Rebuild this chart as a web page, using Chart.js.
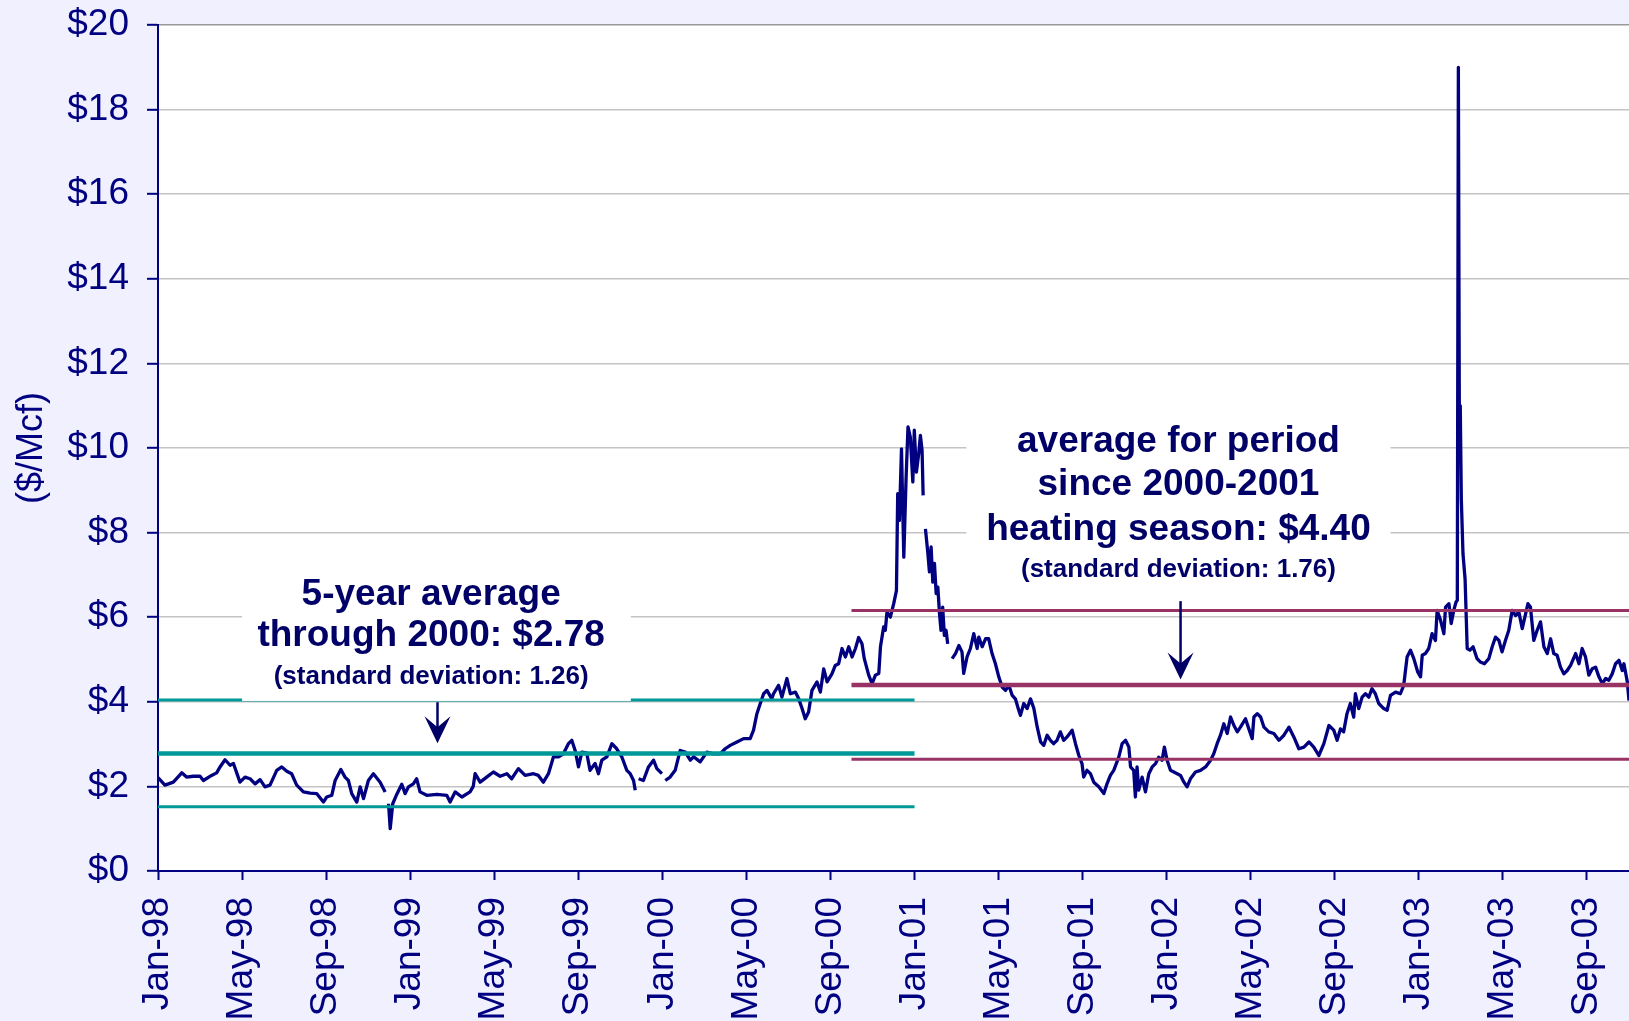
<!DOCTYPE html>
<html>
<head>
<meta charset="utf-8">
<script src="https://cdn.jsdelivr.net/npm/chart.js@4/dist/chart.umd.min.js"></script>
<style>
  html, body { margin: 0; padding: 0; background: #f0f0ff; }
  #wrap { width: 1629px; height: 1021px; }
</style>
</head>
<body>
<div id="wrap"><canvas id="chart" width="1629" height="1021"></canvas></div>
<script>
// x values are months since Jan 1998 (0 = Jan-98), null price = gap in the series
const priceMonths = [
  0.00, 0.33, 0.73, 1.13, 1.36, 1.68, 2.00, 2.16, 2.55, 2.79, 2.95, 3.19, 3.43, 3.59, 3.90, 4.14,
  4.38, 4.62, 4.86, 5.09, 5.33, 5.65, 5.89, 6.13, 6.36, 6.60, 6.92, 7.24, 7.55, 7.87, 8.03, 8.27,
  8.43, 8.70, 8.90, 9.06, 9.22, 9.46, 9.62, 9.78, 10.01, 10.25, 10.57, 10.81, 10.89, 10.97, 11.05, 11.17,
  11.36, 11.60, 11.76, 11.92, 12.15, 12.31, 12.47, 12.79, 13.27, 13.74, 13.90, 14.14, 14.46, 14.85, 15.00, 15.09,
  15.33, 15.64, 15.96, 16.28, 16.60, 16.83, 17.15, 17.47, 17.87, 18.10, 18.34, 18.58, 18.82, 19.06, 19.29, 19.53,
  19.69, 19.85, 20.01, 20.17, 20.40, 20.56, 20.80, 20.96, 21.12, 21.36, 21.60, 21.83, 22.07, 22.31, 22.47, 22.63,
  22.71, 22.79, 22.87, 23.10, 23.34, 23.58, 23.74, 23.98, 24.06, 24.14, 24.37, 24.61, 24.85, 25.09, 25.33, 25.49,
  25.80, 26.12, 26.44, 26.75, 26.99, 27.23, 27.55, 27.87, 28.18, 28.34, 28.50, 28.66, 28.82, 28.98, 29.21, 29.29,
  29.53, 29.69, 29.93, 30.09, 30.33, 30.49, 30.65, 30.80, 30.96, 31.12, 31.36, 31.52, 31.68, 31.84, 32.07, 32.23,
  32.39, 32.55, 32.71, 32.87, 33.03, 33.19, 33.34, 33.50, 33.61, 33.82, 33.98, 34.14, 34.30, 34.38, 34.53, 34.61,
  34.69, 34.85, 35.01, 35.14, 35.20, 35.28, 35.38, 35.49, 35.60, 35.69, 35.80, 35.92, 35.99, 36.09, 36.20, 36.28,
  36.36, 36.41, 36.46, 36.52, 36.63, 36.71, 36.79, 36.87, 36.95, 37.03, 37.11, 37.19, 37.26, 37.34, 37.42, 37.50,
  37.58, 37.68, 37.79, 37.95, 38.11, 38.26, 38.34, 38.50, 38.66, 38.82, 38.98, 39.06, 39.22, 39.38, 39.53, 39.69,
  39.85, 40.01, 40.17, 40.33, 40.49, 40.65, 40.80, 40.96, 41.04, 41.20, 41.36, 41.52, 41.68, 41.84, 42.00, 42.15,
  42.31, 42.47, 42.62, 42.78, 42.94, 43.10, 43.26, 43.50, 43.66, 43.82, 43.97, 44.05, 44.21, 44.37, 44.53, 44.77,
  45.01, 45.16, 45.32, 45.48, 45.72, 45.88, 46.04, 46.20, 46.28, 46.43, 46.51, 46.59, 46.67, 46.83, 46.99, 47.15,
  47.31, 47.47, 47.62, 47.78, 47.89, 48.02, 48.18, 48.34, 48.50, 48.66, 48.82, 48.97, 49.13, 49.37, 49.61, 49.85,
  50.09, 50.24, 50.40, 50.56, 50.72, 50.88, 51.04, 51.20, 51.36, 51.51, 51.75, 51.91, 52.07, 52.15, 52.31, 52.47,
  52.63, 52.86, 53.10, 53.34, 53.58, 53.82, 54.05, 54.29, 54.53, 54.77, 55.00, 55.24, 55.48, 55.72, 55.95, 56.11,
  56.27, 56.42, 56.58, 56.74, 56.90, 56.98, 57.14, 57.30, 57.46, 57.62, 57.77, 57.93, 58.09, 58.33, 58.49, 58.65,
  58.89, 59.12, 59.28, 59.44, 59.60, 59.76, 59.95, 60.08, 60.16, 60.31, 60.47, 60.63, 60.79, 60.87, 61.03, 61.19,
  61.27, 61.43, 61.54, 61.66, 61.77, 61.83, 61.88, 61.93, 61.97, 62.02, 62.10, 62.20, 62.30, 62.43, 62.58, 62.77,
  62.93, 63.12, 63.33, 63.49, 63.65, 63.81, 63.96, 64.12, 64.28, 64.44, 64.60, 64.76, 64.92, 65.08, 65.19, 65.31,
  65.47, 65.63, 65.79, 65.95, 66.11, 66.27, 66.42, 66.58, 66.74, 66.90, 67.06, 67.22, 67.46, 67.62, 67.77, 67.93,
  68.09, 68.25, 68.41, 68.57, 68.73, 68.89, 69.04, 69.20, 69.36, 69.52, 69.68, 69.76, 69.92, 70.00
];
const priceValues = [
  2.21, 2.03, 2.10, 2.32, 2.22, 2.24, 2.24, 2.14, 2.26, 2.32, 2.46, 2.63, 2.50, 2.54, 2.10, 2.22,
  2.18, 2.06, 2.16, 1.99, 2.03, 2.38, 2.46, 2.36, 2.30, 2.03, 1.87, 1.84, 1.83, 1.63, 1.75, 1.79,
  2.14, 2.40, 2.22, 2.14, 1.83, 1.63, 1.99, 1.71, 2.14, 2.30, 2.10, 1.87, null, 1.59, 1.00, 1.59,
  1.81, 2.05, 1.83, 1.99, 2.06, 2.18, 1.87, 1.79, 1.81, 1.79, 1.63, 1.87, 1.75, 1.87, 2.00, 2.30,
  2.10, 2.22, 2.34, 2.24, 2.30, 2.18, 2.42, 2.26, 2.30, 2.26, 2.10, 2.30, 2.70, 2.70, 2.77, 3.01,
  3.09, 2.85, 2.46, 2.81, 2.79, 2.38, 2.54, 2.30, 2.62, 2.70, 3.01, 2.89, 2.70, 2.38, 2.30, 2.14,
  1.91, null, 2.18, 2.14, 2.46, 2.62, 2.42, 2.30, null, 2.14, 2.22, 2.38, 2.85, 2.81, 2.62, 2.70,
  2.58, 2.81, 2.77, 2.77, 2.89, 2.97, 3.05, 3.13, 3.13, 3.33, 3.72, 3.96, 4.19, 4.27, 4.07, 4.19,
  4.39, 4.11, 4.55, 4.19, 4.23, 4.07, 3.84, 3.60, 3.76, 4.27, 4.47, 4.23, 4.78, 4.47, 4.66, 4.86,
  4.90, 5.26, 5.06, 5.30, 5.06, 5.26, 5.52, 5.37, 5.02, 4.63, 4.43, 4.63, 4.67, 5.30, 5.77, 5.69,
  6.12, 6.00, 6.32, 6.63, 8.92, 8.29, 9.98, 7.42, 9.31, 10.50, 10.26, 9.20, 10.42, 9.43, 9.87, 10.30,
  9.94, 8.88, null, 8.09, 7.54, 7.07, 7.66, 6.83, 7.27, 6.56, 6.71, 6.08, 5.69, 6.24, 5.57, 5.69,
  5.37, null, 5.02, 5.14, 5.33, 5.18, 4.67, 5.06, 5.26, 5.61, 5.26, 5.53, 5.30, 5.49, 5.49, 5.14,
  4.90, 4.59, 4.35, 4.27, 4.39, 4.15, 4.07, 3.80, 3.68, 3.96, 3.84, 4.07, 3.84, 3.40, 3.05, 2.97,
  3.21, 3.09, 3.01, 3.09, 3.29, 3.09, 3.17, 3.33, 3.01, 2.73, 2.54, 2.22, 2.38, 2.30, 2.10, 1.99,
  1.83, 2.06, 2.26, 2.38, 2.69, 3.01, 3.09, 2.93, 2.46, 2.38, 1.75, 2.46, 1.91, 2.22, 1.87, 2.30,
  2.46, 2.54, 2.69, 2.62, 2.93, 2.62, 2.38, 2.34, 2.30, 2.26, 2.10, 1.99, 2.18, 2.34, 2.38, 2.46,
  2.62, 2.77, 3.01, 3.21, 3.48, 3.25, 3.64, 3.44, 3.29, 3.40, 3.60, 3.36, 3.13, 3.64, 3.72, 3.64,
  3.40, 3.29, 3.25, 3.09, 3.21, 3.40, 3.17, 2.89, 2.93, 3.05, 2.93, 2.73, 3.01, 3.44, 3.33, 3.09,
  3.36, 3.29, 3.72, 3.96, 3.64, 4.19, 3.84, 4.11, 4.19, 4.11, 4.31, 4.19, 3.96, 3.84, 3.80, 4.15,
  4.23, 4.19, 4.39, 5.06, 5.22, 5.02, 4.70, 4.59, 5.10, 5.14, 5.26, 5.61, 5.45, 6.16, 5.93, 5.61,
  6.24, 6.32, 5.85, 6.16, 6.36, 6.40, 19.00, 10.00, 11.00, 8.80, 7.50, 6.90, 5.26, 5.22, 5.30, 5.02,
  4.94, 4.90, 5.02, 5.30, 5.53, 5.45, 5.18, 5.45, 5.69, 6.16, 6.04, 6.12, 5.73, 6.08, 6.32, 6.24,
  5.45, 5.69, 5.89, 5.30, 5.14, 5.49, 5.14, 5.10, 4.82, 4.66, 4.74, 4.86, 5.14, 4.90, 5.26, 5.06,
  4.63, 4.78, 4.82, 4.59, 4.43, 4.55, 4.51, 4.66, 4.90, 4.98, 4.74, 4.90, 4.47, 4.03
];

const tickMonths = [0, 4, 8, 12, 16, 20, 24, 28, 32, 36, 40, 44, 48, 52, 56, 60, 64, 68];
const tickLabels = ['Jan-98', 'May-98', 'Sep-98', 'Jan-99', 'May-99', 'Sep-99', 'Jan-00', 'May-00', 'Sep-00',
  'Jan-01', 'May-01', 'Sep-01', 'Jan-02', 'May-02', 'Sep-02', 'Jan-03', 'May-03', 'Sep-03'];
const yTicks = [0, 2, 4, 6, 8, 10, 12, 14, 16, 18, 20];

// averages and standard deviations from the annotations
const avgThrough2000 = 2.78;
const sdThrough2000 = 1.26;
const periodThrough2000 = [0, 36];
const avgSince2000 = 4.40;
const sdSince2000 = 1.76;
const periodSince2000 = [33, 70];

const NAVY = '#000080';
const TEXT = '#000066';
const TEAL = '#009999';
const MAROON = '#993366';
const FONT = "'Liberation Sans', Arial, sans-serif";

function levelLine(value, period, color, width) {
  return {
    data: [{ x: period[0], y: value }, { x: period[1], y: value }],
    borderColor: color,
    borderWidth: width,
    pointRadius: 0,
    order: 1
  };
}

// text boxes with arrows, placed in data units: box = [xFrom, xTo, yBottom, yTop]
const notes = [
  {
    box: [4.0, 22.5, 4.02, 7.04],
    cx: 13.0,
    lines: [
      { text: '5-year average', y: 6.54, size: 37 },
      { text: 'through 2000: $2.78', y: 5.55, size: 37 },
      { text: '(standard deviation: 1.26)', y: 4.60, size: 26 }
    ],
    arrow: { x: 13.3, from: 3.99, to: 3.02 }
  },
  {
    box: [38.47, 58.65, 6.71, 10.77],
    cx: 48.56,
    lines: [
      { text: 'average for period', y: 10.15, size: 37 },
      { text: 'since 2000-2001', y: 9.12, size: 37 },
      { text: 'heating season: $4.40', y: 8.06, size: 37 },
      { text: '(standard deviation: 1.76)', y: 7.13, size: 26 }
    ],
    arrow: { x: 48.66, from: 6.38, to: 4.53 }
  }
];

const notesPlugin = {
  id: 'notes',
  beforeDraw(chart) {
    const { ctx, chartArea: a } = chart;
    ctx.save();
    ctx.fillStyle = '#ffffff';
    ctx.fillRect(a.left, a.top, a.right - a.left, a.bottom - a.top);
    ctx.restore();
  },
  afterDatasetsDraw(chart) {
    const { ctx } = chart;
    const x = chart.scales.x, y = chart.scales.y;
    ctx.save();
    notes.forEach(n => {
      const l = x.getPixelForValue(n.box[0]);
      const r = x.getPixelForValue(n.box[1]);
      const b = y.getPixelForValue(n.box[2]);
      const t = y.getPixelForValue(n.box[3]);
      ctx.fillStyle = '#ffffff';
      ctx.fillRect(l, t, r - l, b - t);

      ctx.fillStyle = TEXT;
      ctx.textAlign = 'center';
      ctx.textBaseline = 'middle';
      const cx = x.getPixelForValue(n.cx);
      n.lines.forEach(line => {
        ctx.font = `bold ${line.size}px ${FONT}`;
        ctx.fillText(line.text, cx, y.getPixelForValue(line.y));
      });

      const ax = x.getPixelForValue(n.arrow.x);
      const y1 = y.getPixelForValue(n.arrow.from);
      const tip = y.getPixelForValue(n.arrow.to);
      ctx.strokeStyle = TEXT;
      ctx.lineWidth = 2.5;
      ctx.beginPath();
      ctx.moveTo(ax, y1);
      ctx.lineTo(ax, tip - 14);
      ctx.stroke();
      ctx.beginPath();
      ctx.moveTo(ax, tip);
      ctx.lineTo(ax - 13, tip - 27);
      ctx.lineTo(ax, tip - 16);
      ctx.lineTo(ax + 13, tip - 27);
      ctx.closePath();
      ctx.fill();
    });
    ctx.restore();
  }
};

new Chart(document.getElementById('chart'), {
  type: 'line',
  data: {
    datasets: [
      {
        data: priceMonths.map((m, i) => ({ x: m, y: priceValues[i] })),
        borderColor: NAVY,
        borderWidth: 3.3,
        pointRadius: 0,
        spanGaps: false,
        borderJoinStyle: 'round',
        order: 2
      },
      levelLine(avgThrough2000 + sdThrough2000, periodThrough2000, TEAL, 3),
      levelLine(avgThrough2000, periodThrough2000, TEAL, 4.5),
      levelLine(avgThrough2000 - sdThrough2000, periodThrough2000, TEAL, 3),
      levelLine(avgSince2000 + sdSince2000, periodSince2000, MAROON, 3),
      levelLine(avgSince2000, periodSince2000, MAROON, 4.5),
      levelLine(avgSince2000 - sdSince2000, periodSince2000, MAROON, 3)
    ]
  },
  options: {
    responsive: false,
    animation: false,
    devicePixelRatio: 1,
    layout: { padding: { top: 25, right: 0, bottom: 0, left: 0 } },
    plugins: {
      legend: { display: false },
      tooltip: { enabled: false }
    },
    scales: {
      x: {
        type: 'linear',
        min: 0,
        max: 70,
        afterBuildTicks: s => { s.ticks = tickMonths.map(v => ({ value: v })); },
        afterFit: s => {
          s.height = 150;
          s.paddingLeft = 0;
          s.paddingRight = 0;
        },
        grid: { drawOnChartArea: false, drawTicks: true, tickLength: 9, tickColor: NAVY, tickWidth: 2 },
        border: { color: NAVY, width: 2 },
        ticks: {
          autoSkip: false,
          minRotation: 90,
          maxRotation: 90,
          padding: 17,
          color: NAVY,
          font: { family: FONT, size: 37 },
          callback: v => tickLabels[tickMonths.indexOf(v)]
        }
      },
      y: {
        min: 0,
        max: 20,
        afterBuildTicks: s => { s.ticks = yTicks.map(v => ({ value: v })); },
        afterFit: s => {
          s.width = 158;
          s.paddingTop = 0;
          s.paddingBottom = 0;
        },
        grid: {
          color: c => (c.tick && c.tick.value === 20 ? '#999999' : '#c4c4c4'),
          lineWidth: 1.6,
          tickLength: 11,
          tickColor: NAVY,
          tickWidth: 2
        },
        border: { color: NAVY, width: 2 },
        ticks: {
          padding: 18,
          color: NAVY,
          font: { family: FONT, size: 37 },
          callback: v => '$' + v
        },
        title: {
          display: true,
          text: '($/Mcf)',
          color: NAVY,
          font: { family: FONT, size: 36 },
          padding: { top: 10, bottom: 0 }
        }
      }
    }
  },
  plugins: [notesPlugin]
});
</script>
</body>
</html>
